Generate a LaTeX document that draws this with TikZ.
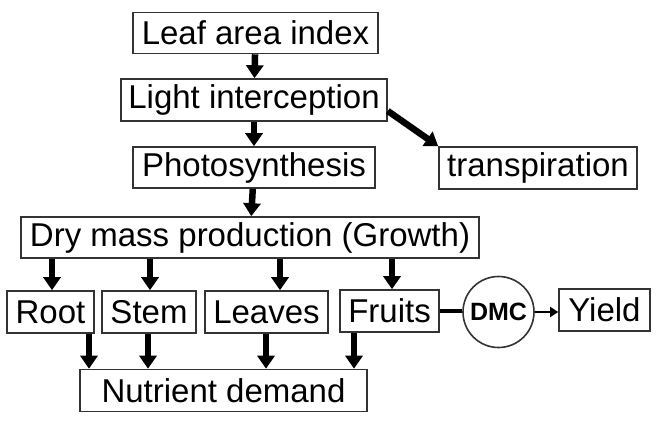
\documentclass[tikz,border=0pt]{standalone}
\usepackage{fontspec}
\setmainfont{Liberation Sans}
\usetikzlibrary{arrows.meta,positioning}
\tikzset{
  box/.style={draw=black!80, line width=1.6pt, inner sep=0pt, minimum height=41pt,
    font=\fontsize{33}{38}\selectfont},
  fat/.style={line width=6.5pt, -{Triangle[width=17pt,length=13pt]}},
}

\begin{document}
\begin{tikzpicture}[x=1pt,y=-1pt]
  \useasboundingbox (0,0) rectangle (660,423);
  % chain down the middle
  \node[box, minimum width=245pt] (lai) at (255.5,33) {Leaf area index};
  \node[box, minimum width=266pt, minimum height=42pt] (light) at (254,100) {Light interception};
  \node[box, minimum width=242pt] (photo) at (254,167.5) {Photosynthesis};
  \node[box, minimum width=198pt, minimum height=42pt] (transp) at (538,168) {transpiration};
  \node[box, minimum width=458pt] (drymass) at (250,237.5) {Dry mass production (Growth)};
  % organs
  \node[box, minimum width=87pt, minimum height=42pt] (root) at (50.5,312) {Root};
  \node[box, minimum width=94pt, minimum height=42pt] (stem) at (149,312) {Stem};
  \node[box, minimum width=123pt, minimum height=42pt] (leaves) at (266.5,312) {Leaves};
  \node[box, minimum width=99pt, minimum height=42pt] (fruits) at (389.5,311) {Fruits};
  \node[circle, draw=black!80, line width=1.6pt, minimum size=71pt, inner sep=0pt,
    font=\bfseries\fontsize{25}{28}\selectfont] (dmc) at (498.5,312) {DMC};
  \node[box, minimum width=91pt, minimum height=42pt] (yield) at (604.5,310) {Yield};
  \node[box, minimum width=287pt, minimum height=42pt] (nutrient) at (223.5,390.5) {Nutrient demand};

  \draw[fat] (lai) -- (light);
  \draw[fat] (light) -- (photo);
  \draw[fat] ([yshift=-11pt]light.east) -- (transp.north west);
  \draw[fat] (photo) -- (drymass);

  \draw[fat] (drymass.south -| 52,0) -- (root.north -| 52,0);
  \draw[fat] (drymass.south -| 150,0) -- (stem.north -| 150,0);
  \draw[fat] (drymass.south -| 280,0) -- (leaves.north -| 280,0);
  \draw[fat] (drymass.south -| 392,0) -- (fruits.north -| 392,0);

  \draw[fat] (root.south -| 89,0) -- (nutrient.north -| 89,0);
  \draw[fat] (stem.south -| 148,0) -- (nutrient.north -| 148,0);
  \draw[fat] (leaves.south -| 266,0) -- (nutrient.north -| 266,0);
  \draw[fat] (fruits.south -| 354,0) -- (nutrient.north -| 354,0);

  \draw[line width=3.5pt] (fruits.east) -- (dmc.west |- fruits.east);
  \draw[line width=1.5pt, -{Triangle[width=10pt,length=8pt]}] (dmc.east) -- (yield.west |- dmc.east);
\end{tikzpicture}
\end{document}
